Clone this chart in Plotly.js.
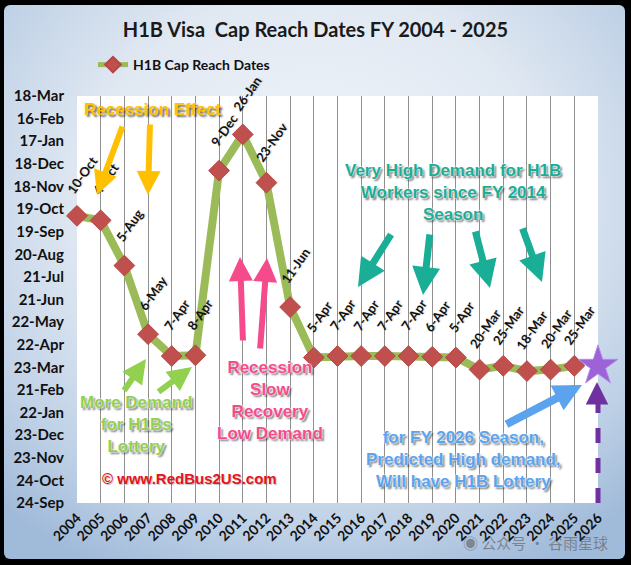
<!DOCTYPE html>
<html>
<head>
<meta charset="utf-8">
<script src="https://cdn.plot.ly/plotly-3.0.1.min.js"></script>
<style>
  html, body { margin:0; padding:0; background:#000; width:631px; height:565px; overflow:hidden; }
  #bg { position:absolute; left:4px; top:5px; width:621px; height:554px; border-radius:6px;
        background: radial-gradient(ellipse 75% 75% at 50% 35%, #f4f7fb 0%, #e0e8f2 50%, #bfd1e6 80%, #a0bad9 100%); }
  #chart { position:absolute; left:0; top:0; width:631px; height:565px; }
</style>
</head>
<body>
<div id="bg"></div>
<div id="chart"></div>
<script>
// ---- data ----
const years = [2004,2005,2006,2007,2008,2009,2010,2011,2012,2013,2014,2015,2016,2017,2018,2019,2020,2021,2022,2023,2024,2025];
const capDates = ['2005-10-10','2005-10-04','2005-08-05','2005-05-06','2005-04-07','2005-04-08','2005-12-09','2006-01-26','2005-11-23','2005-06-11','2005-04-05','2005-04-07','2005-04-07','2005-04-07','2005-04-07','2005-04-06','2005-04-05','2005-03-20','2005-03-25','2005-03-18','2005-03-20','2005-03-25'];
const capLabels = ['10-Oct','4-Oct','5-Aug','6-May','7-Apr','8-Apr','9-Dec','26-Jan','23-Nov','11-Jun','5-Apr','7-Apr','7-Apr','7-Apr','7-Apr','6-Apr','5-Apr','20-Mar','25-Mar','18-Mar','20-Mar','25-Mar'];
const predictedYear = [2026];
const predictedDate = ['2005-03-25'];
const xTickYears = [2004,2005,2006,2007,2008,2009,2010,2011,2012,2013,2014,2015,2016,2017,2018,2019,2020,2021,2022,2023,2024,2025,2026];
const xTickText = ['2004','2005','2006','2007','2008','2009','2010','2011','2012','2013','2014','2015','2016','2017','2018','2019','2020','2021','2022','2023','2024','2025','2026'];
const yTickVals = ['2004-09-24','2004-10-24','2004-11-23','2004-12-23','2005-01-22','2005-02-21','2005-03-23','2005-04-22','2005-05-22','2005-06-21','2005-07-21','2005-08-20','2005-09-19','2005-10-19','2005-11-18','2005-12-18','2006-01-17','2006-02-16','2006-03-18'];
const yTickText = ['24-Sep','24-Oct','23-Nov','23-Dec','22-Jan','21-Feb','23-Mar','22-Apr','22-May','21-Jun','21-Jul','20-Aug','19-Sep','19-Oct','18-Nov','18-Dec','17-Jan','16-Feb','18-Mar'];

// ---- geometry helpers (plot area in px) ----
const W = 631, H = 565, L = 77, R = 598, T = 96, B = 503;
const px = x => (x - L) / (R - L);
const py = y => (B - y) / (B - T);

const labelFont = {family:'Lato, sans-serif', size:13, color:'#111', weight:700, shadow:'1px 1px 1px rgba(0,0,0,0.15)'};
const decoFont = (c, sh) => ({family:'"Liberation Sans", Arial, sans-serif', size:17, color:c, weight:700,
  shadow: sh || '0 0 2px #fff, 0 0 2px #fff, 2px 2px 2px rgba(0,0,0,0.55)'});

const traces = [
  {x: years, y: capDates, type:'scatter', mode:'lines+markers', name:'H1B Cap Reach Dates',
   line:{color:'#9bbb59', width:8}, marker:{symbol:'diamond', size:16, color:'#c0504d', line:{color:'#b54643', width:1}},
   cliponaxis:false},
  {x: predictedYear, y: predictedDate, type:'scatter', mode:'markers', showlegend:false,
   marker:{symbol:'star', size:30, color:'#9d62d8', line:{color:'#b58ae6', width:1}}, cliponaxis:false}
];

const ann = [];
// data labels
for (let i = 0; i < years.length; i++) {
  ann.push({x: years[i], y: capDates[i], xref:'x', yref:'y', text: capLabels[i], showarrow:false,
            textangle:-55, xshift:5, yshift:41, font: labelFont});
}
// arrows
function arrow(tx, ty, ax, ay, color, w, size) {
  ann.push({x: px(tx), y: py(ty), xref:'paper', yref:'paper', ax: ax, ay: ay, text:'', showarrow:true,
            arrowhead:2, arrowsize: size || 0.8, arrowwidth: w, arrowcolor: color});
}
arrow(97,195, 26,-70, '#ffc000', 6);
arrow(148,195, 2,-72, '#ffc000', 6);
arrow(240,257, 3,85, '#f54b8d', 6);
arrow(267,258, -7,92, '#f54b8d', 6);
arrow(146,359, -23,33, '#92d050', 6);
arrow(192,367, -35,26, '#92d050', 6);
arrow(358,287, 34,-54, '#1aae96', 7);
arrow(423,295, 7,-62, '#1aae96', 7);
arrow(490,288, -15,-58, '#1aae96', 7);
arrow(542,282, -20,-55, '#1aae96', 7);
arrow(582,385, -77,40, '#5ba3ee', 8, 0.7);
arrow(597,382, 0,14, '#7030a0', 5, 0.9);

// texts
function txt(cx, cy, text, font, xanchor) {
  ann.push({x: px(cx), y: py(cy), xref:'paper', yref:'paper', text: text, showarrow:false,
            xanchor: xanchor || 'center', yanchor:'middle', font: font, align:'center'});
}
txt(152,110, 'Recession Effect', decoFont('#ffc000', '2px 2px 2px rgba(0,0,0,0.6)'));
txt(453,192, 'Very High Demand for H1B<br>Workers since FY 2014<br>Season', decoFont('#1aae96'));
txt(270,400, 'Recession<br>Slow<br>Recovery<br>Low Demand', decoFont('#f54b8d'));
txt(136,424, 'More Demand<br>for H1Bs<br>Lottery', decoFont('#92d050'));
txt(463,459, 'for FY 2026 Season,<br>Predicted High demand,<br>Will have H1B Lottery', decoFont('#5ba3ee'));
txt(100,478, '© www.RedBus2US.com', {family:'"Liberation Sans", Arial, sans-serif', size:15, color:'#e8141c', weight:700,
   shadow:'1px 1px 1px rgba(0,0,0,0.25)'}, 'left');
txt(535,542, '◉ 公众号 · 谷雨星球', {family:'"Noto Sans CJK SC", sans-serif', size:15, color:'rgba(80,80,80,0.55)'});

const layout = {
  width: W, height: H,
  margin: {l: L, r: W - R, t: T, b: H - B, pad: 0, autoexpand: false},
  paper_bgcolor: 'rgba(0,0,0,0)',
  plot_bgcolor: '#ffffff',
  title: {text:'H1B Visa\u00a0 Cap Reach Dates FY 2004 - 2025', x:0.5, xref:'container', y:1 - 30/H, yref:'container',
          xanchor:'center', yanchor:'middle', font:{family:'Lato, sans-serif', size:20, color:'#1a1a1a', weight:700}},
  showlegend: true,
  legend: {x: 93/W, y: 1 - 65/H, xref:'container', yref:'container', xanchor:'left', yanchor:'middle',
           itemsizing:'constant',
           bgcolor:'rgba(0,0,0,0)', font:{family:'Lato, sans-serif', size:14, color:'#111', weight:700}},
  xaxis: {range:[2004, 2026], tickvals: xTickYears, ticktext: xTickText, tickangle:-45, automargin:false,
          showgrid:true, gridcolor:'#8f8f8f', gridwidth:1, zeroline:false, showline:false, ticks:'',
          ticklabelstandoff: 3,
          tickfont:{family:'Lato, sans-serif', size:14, color:'#111', weight:700}},
  yaxis: {type:'date', range:['2004-09-24','2006-03-18'], tickvals: yTickVals, ticktext: yTickText, automargin:false,
          showgrid:false, zeroline:false, showline:false, ticks:'', ticklabelstandoff: 12,
          tickfont:{family:'Lato, sans-serif', size:15, color:'#111', weight:700}},
  shapes: [{type:'line', xref:'paper', yref:'paper', x0:1, x1:1, y0:0, y1:py(392),
            line:{color:'#7030a0', width:5, dash:'dash'}}],
  annotations: ann
};

Plotly.newPlot('chart', traces, layout, {displayModeBar:false, staticPlot:true});
</script>
</body>
</html>
